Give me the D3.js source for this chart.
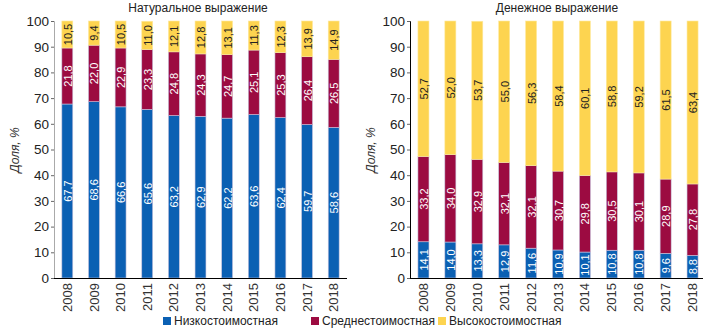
<!DOCTYPE html>
<html>
<head>
<meta charset="utf-8">
<script src="https://cdn.jsdelivr.net/npm/d3@7"></script>
<style>
  body { margin: 0; background: #fff; }
  text { font-family: Arial, "Liberation Sans", sans-serif; }
</style>
</head>
<body>
<div id="chart"></div>
<script>
var svgWidth = 715;
var svgHeight = 331;

// data
var years = ["2008", "2009", "2010", "2011", "2012", "2013", "2014", "2015", "2016", "2017", "2018"];
var seriesNames = ["Низкостоимостная", "Среднестоимостная", "Высокостоимостная"];
var seriesColors = ["#0b60b3", "#9c0b41", "#fdd450"];
var yTicks = [0, 10, 20, 30, 40, 50, 60, 70, 80, 90, 100];

var natLow = [67.7, 68.6, 66.6, 65.6, 63.2, 62.9, 62.2, 63.6, 62.4, 59.7, 58.6];
var natMid = [21.8, 22.0, 22.9, 23.3, 24.8, 24.3, 24.7, 25.1, 25.3, 26.4, 26.5];
var natHigh = [10.5, 9.4, 10.5, 11.0, 12.1, 12.8, 13.1, 11.3, 12.3, 13.9, 14.9];

var monLow = [14.1, 14.0, 13.3, 12.9, 11.6, 10.9, 10.1, 10.8, 10.8, 9.6, 8.8];
var monMid = [33.2, 34.0, 32.9, 32.1, 32.1, 30.7, 29.8, 30.5, 30.1, 28.9, 27.8];
var monHigh = [52.7, 52.0, 53.7, 55.0, 56.3, 58.4, 60.1, 58.8, 59.2, 61.5, 63.4];

var svg = d3.select("#chart")
  .append("svg")
  .attr("width", svgWidth)
  .attr("height", svgHeight);

var fmt = d => d.toFixed(1).replace(".", ",");

function drawPanel(opts) {
  var g = svg.append("g");

  var rows = years.map(function(y, i) {
    return { year: y, low: opts.low[i], mid: opts.mid[i], high: opts.high[i] };
  });
  var keys = ["low", "mid", "high"];
  var stacked = d3.stack().keys(keys)(rows);

  var x = d3.scaleBand()
    .domain(years)
    .range([opts.x0, opts.x1])
    .paddingInner(0.59)
    .paddingOuter(0.295);

  var y = d3.scaleLinear()
    .domain([0, 100])
    .range([278, 21]);

  // bars
  stacked.forEach(function(layer, k) {
    g.append("g")
      .selectAll("rect")
      .data(layer)
      .enter()
      .append("rect")
      .attr("x", d => x(d.data.year))
      .attr("y", d => y(Math.min(d[1], 100)))
      .attr("width", x.bandwidth())
      .attr("height", d => y(d[0]) - y(Math.min(d[1], 100)))
      .attr("fill", seriesColors[k])
      .attr("stroke", k === 2 ? "#fde9a0" : "#c9c4de")
      .attr("stroke-width", 0.6);

    g.append("g")
      .selectAll("text")
      .data(layer)
      .enter()
      .append("text")
      .attr("transform", d => "translate(" + (x(d.data.year) + x.bandwidth() / 2 + 0.5) + "," +
        y((d[0] + Math.min(d[1], 100)) / 2) + ") rotate(-90)")
      .attr("text-anchor", "middle")
      .attr("dominant-baseline", "central")
      .attr("font-size", "11px")
      .attr("fill", k === 2 ? "#222" : "#fff")
      .text(d => fmt(d.data[keys[k]]));
  });

  // y axis
  var leftAxis = d3.axisLeft(y).tickValues(yTicks).tickSize(3).tickPadding(2);
  var yAxis = g.append("g")
    .attr("transform", "translate(" + opts.x0 + ",0)")
    .call(leftAxis);
  yAxis.select(".domain").attr("stroke", opts.axisColor);
  yAxis.selectAll(".tick line").attr("stroke", "#666");
  yAxis.selectAll(".tick text")
    .attr("font-size", "13.5px")
    .attr("fill", "#222");

  // x axis
  var bottomAxis = d3.axisBottom(x).tickSize(0).tickPadding(5);
  var xAxis = g.append("g")
    .attr("transform", "translate(0,278)")
    .call(bottomAxis);
  xAxis.select(".domain").attr("stroke", "#000").attr("d", "M" + opts.x0 + ",0.5H" + opts.axisEnd);
  xAxis.selectAll(".tick text")
    .attr("font-size", "13px")
    .attr("fill", "#333")
    .attr("text-anchor", "end")
    .attr("transform", "rotate(-90)")
    .attr("x", -5)
    .attr("y", 0)
    .attr("dy", "0.35em");

  // title
  g.append("text")
    .attr("x", opts.titleX)
    .attr("y", 12)
    .attr("text-anchor", "middle")
    .attr("font-size", "12px")
    .attr("fill", "#222")
    .text(opts.title);

  // y label
  g.append("text")
    .attr("transform", "translate(" + opts.labelX + ",150) rotate(-90)")
    .attr("text-anchor", "middle")
    .attr("font-size", "12px")
    .attr("font-style", "italic")
    .attr("fill", "#333")
    .text("Доля, %");
}

drawPanel({
  low: natLow, mid: natMid, high: natHigh,
  x0: 54, x1: 347, axisEnd: 347, axisColor: "#aaa",
  title: "Натуральное выражение", titleX: 198, labelX: 19
});

drawPanel({
  low: monLow, mid: monMid, high: monHigh,
  x0: 410, x1: 706, axisEnd: 703, axisColor: "#000",
  title: "Денежное выражение", titleX: 557, labelX: 375
});

// legend
var legendX = [163, 311, 438];
var legend = svg.append("g");
seriesNames.forEach(function(name, i) {
  legend.append("rect")
    .attr("x", legendX[i])
    .attr("y", 317)
    .attr("width", 8)
    .attr("height", 8)
    .attr("fill", seriesColors[i]);
  legend.append("text")
    .attr("x", legendX[i] + 11)
    .attr("y", 321)
    .attr("dominant-baseline", "central")
    .attr("font-size", "12px")
    .attr("fill", "#222")
    .text(name);
});
</script>
</body>
</html>
